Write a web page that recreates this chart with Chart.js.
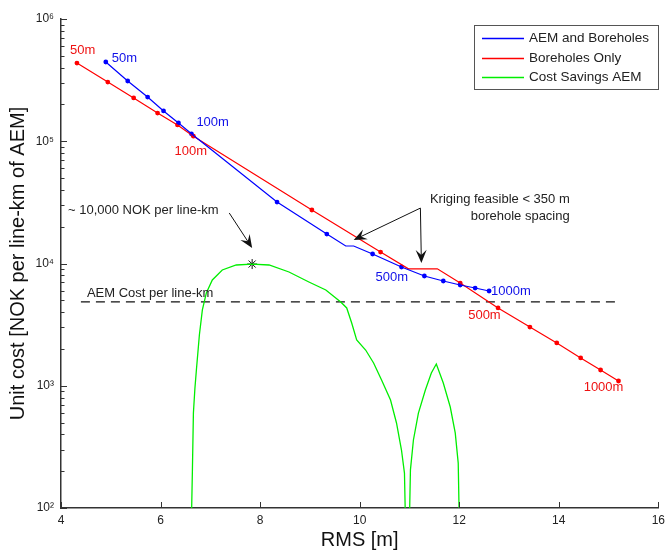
<!DOCTYPE html>
<html>
<head>
<meta charset="utf-8">
<title>Unit cost vs RMS</title>
<script src="https://cdn.jsdelivr.net/npm/chart.js@4.4.0/dist/chart.umd.min.js"></script>
<style>
  html, body { margin: 0; padding: 0; background: #fff; }
  #wrap { width: 670px; height: 555px; }
</style>
</head>
<body>
<div id="wrap"><canvas id="chart1" width="670" height="555"></canvas></div>
<script>
// borehole spacing 50,60,70,80,90,100,200,...,1000 m  (marked points)
var aemRms = [4.90, 5.34, 5.74, 6.06, 6.36, 6.62, 8.34, 9.34, 10.26, 10.84, 11.30, 11.68, 12.02, 12.32, 12.60]
var aemCost = [445000, 311000, 230000, 177000, 141000, 115000, 31800, 17400, 11960, 9360, 7900, 7190, 6670, 6300, 5960]
// extra bends of the blue line (kriging limit)
var aemBendRms = [9.72, 9.88]
var aemBendCost = [13900, 13900]

var boreRms = [4.32, 4.94, 5.46, 5.94, 6.34, 6.66, 9.04, 10.42, 12.02, 12.78, 13.42, 13.96, 14.44, 14.84, 15.20]
var boreCost = [436000, 305000, 226000, 170000, 136000, 110000, 27400, 12400, 6920, 4330, 3020, 2240, 1690, 1345, 1094]
var boreBendRms = [10.98, 11.56]
var boreBendCost = [9050, 9050]

// cost savings (drops below axis where it hits zero)
var savingRms = [6.60, 6.64, 6.66, 6.69, 6.72, 6.78, 6.84, 6.92, 7.04, 7.24, 7.52, 7.84, 8.18, 8.58, 8.98, 9.32, 9.62, 9.74, 9.84, 9.94, 10.12, 10.28, 10.44, 10.62, 10.74, 10.84, 10.90, 10.94, 10.98, 11.02, 11.08, 11.18, 11.32, 11.44, 11.54, 11.68, 11.82, 11.92, 11.98, 12.02]
var savingCost = [30, 205, 598, 950, 1345, 2600, 4170, 5740, 7330, 8850, 9720, 9900, 9720, 8520, 7060, 6070, 4840, 4330, 3260, 2370, 1960, 1535, 1115, 765, 496, 298, 193, 30, 30, 205, 360, 598, 923, 1272, 1507, 1052, 670, 411, 233, 30]

var peakRms = [7.84]
var peakCost = [9900]

var aemLineRms = [4.4, 15.2]
var aemLineCost = [4850, 4850]

var xTicks = [4, 6, 8, 10, 12, 14, 16]
var yTicks = [100, 1000, 10000, 100000, 1000000]
var legendNames = ['AEM and Boreholes', 'Boreholes Only', 'Cost Savings AEM']

var notes = [
    {text: '50m', x: 4.18, y: 557000, color: '#ee1111'},
    {text: '50m', x: 5.02, y: 480000, color: '#1010e8'},
    {text: '100m', x: 6.72, y: 143600, color: '#1010e8'},
    {text: '100m', x: 6.28, y: 83200, color: '#ee1111'},
    {text: '500m', x: 10.32, y: 7760, color: '#1010e8'},
    {text: '1000m', x: 12.64, y: 5960, color: '#1010e8'},
    {text: '500m', x: 12.18, y: 3790, color: '#ee1111'},
    {text: '1000m', x: 14.50, y: 977, color: '#ee1111'},
    {text: '~ 10,000 NOK per line-km', x: 4.14, y: 27400, color: '#222'},
    {text: 'AEM Cost per line-km', x: 4.52, y: 5740, color: '#222'},
    {text: 'Kriging feasible < 350 m', x: 14.22, y: 33700, color: '#222', right: true},
    {text: 'borehole spacing', x: 14.22, y: 24500, color: '#222', right: true}
]
var arrows = [
    {x1: 7.38, y1: 25900, x2: 7.84, y2: 13400},
    {x1: 11.22, y1: 28400, x2: 9.88, y2: 15560},
    {x1: 11.22, y1: 28400, x2: 11.24, y2: 10100}
]

var FONT = '"Liberation Sans", Arial, sans-serif'
var sup = {2: '\u00b2', 3: '\u00b3', 4: '\u2074', 5: '\u2075', 6: '\u2076'}

function pts(xs, ys) {
    var out = []
    for (var i = 0; i < xs.length; i++) out.push({x: xs[i], y: ys[i]})
    return out
}
function lineWithBends(xs, ys, bx, by) {
    return pts(xs, ys).concat(pts(bx, by)).sort(function(a, b) { return a.x - b.x })
}

function drawArrow(ctx, x1, y1, x2, y2) {
    var a = Math.atan2(y2 - y1, x2 - x1)
    ctx.beginPath()
    ctx.moveTo(x1, y1)
    ctx.lineTo(x2 - Math.cos(a) * 6, y2 - Math.sin(a) * 6)
    ctx.stroke()
    ctx.save()
    ctx.translate(x2, y2)
    ctx.rotate(a)
    ctx.beginPath()
    ctx.moveTo(0, 0)
    ctx.lineTo(-13, -5.5)
    ctx.lineTo(-8, 0)
    ctx.lineTo(-13, 5.5)
    ctx.closePath()
    ctx.fill()
    ctx.restore()
}

var extras = {
    id: 'extras',
    afterDraw: function(chart) {
        var ctx = chart.ctx
        var xs = chart.scales.x, ys = chart.scales.y
        var area = chart.chartArea
        ctx.save()
        // inward tick marks like the original
        ctx.strokeStyle = '#333'
        ctx.lineWidth = 1
        xTicks.forEach(function(v) {
            var px = Math.round(xs.getPixelForValue(v)) + 0.5
            ctx.beginPath(); ctx.moveTo(px, area.bottom); ctx.lineTo(px, area.bottom - 6); ctx.stroke()
        })
        for (var d = 2; d <= 6; d++) {
            for (var m = 1; m <= 9; m++) {
                if (d === 6 && m > 1) break
                var py = Math.round(ys.getPixelForValue(m * Math.pow(10, d))) + 0.5
                var len = m === 1 ? 6 : 3.5
                ctx.beginPath(); ctx.moveTo(area.left, py); ctx.lineTo(area.left + len, py); ctx.stroke()
            }
        }
        // text notes
        ctx.textBaseline = 'middle'
        ctx.font = '13px ' + FONT
        notes.forEach(function(n) {
            ctx.fillStyle = n.color
            ctx.textAlign = n.right ? 'right' : 'left'
            ctx.fillText(n.text, xs.getPixelForValue(n.x), ys.getPixelForValue(n.y))
        })
        // arrows
        ctx.strokeStyle = '#111'
        ctx.fillStyle = '#111'
        ctx.lineWidth = 1
        arrows.forEach(function(a) {
            drawArrow(ctx, xs.getPixelForValue(a.x1), ys.getPixelForValue(a.y1),
                xs.getPixelForValue(a.x2), ys.getPixelForValue(a.y2))
        })
        // legend box
        var bx = 474, by = 25, bw = 184, bh = 64
        ctx.fillStyle = '#fff'
        ctx.fillRect(bx, by, bw, bh)
        ctx.strokeStyle = '#555'
        ctx.lineWidth = 1
        ctx.strokeRect(bx + 0.5, by + 0.5, bw, bh)
        ctx.font = '13.5px ' + FONT
        ctx.textAlign = 'left'
        var colors = ['#0000ff', '#ff0000', '#00ee00']
        legendNames.forEach(function(name, i) {
            var ly = Math.round(by + 13 + i * 19.5) + 0.5
            ctx.strokeStyle = colors[i]
            ctx.lineWidth = 1.3
            ctx.beginPath(); ctx.moveTo(482, ly); ctx.lineTo(524, ly); ctx.stroke()
            ctx.fillStyle = '#222'
            ctx.fillText(name, 529, ly)
        })
        ctx.restore()
    }
}

var ctx = document.getElementById('chart1').getContext('2d')
var chart = new Chart(ctx, {
    type: 'scatter',
    data: {
        datasets: [
            {
                label: legendNames[0],
                data: lineWithBends(aemRms, aemCost, aemBendRms, aemBendCost),
                showLine: true, borderColor: '#0000ff', borderWidth: 1.2, pointRadius: 0
            },
            {
                label: legendNames[1],
                data: lineWithBends(boreRms, boreCost, boreBendRms, boreBendCost),
                showLine: true, borderColor: '#ff0000', borderWidth: 1.2, pointRadius: 0
            },
            {
                label: legendNames[2],
                data: pts(savingRms, savingCost),
                showLine: true, borderColor: '#00ee00', borderWidth: 1.3, pointRadius: 0
            },
            {
                label: 'AEM spacing points',
                data: pts(aemRms, aemCost),
                showLine: false, pointRadius: 2.4, pointBackgroundColor: '#0000ff', pointBorderWidth: 0
            },
            {
                label: 'Borehole spacing points',
                data: pts(boreRms, boreCost),
                showLine: false, pointRadius: 2.4, pointBackgroundColor: '#ff0000', pointBorderWidth: 0
            },
            {
                label: 'AEM Cost per line-km',
                data: pts(aemLineRms, aemLineCost),
                showLine: true, borderColor: '#111', borderWidth: 1.4, borderDash: [9, 6], pointRadius: 0
            },
            {
                label: 'peak',
                data: pts(peakRms, peakCost),
                showLine: false, pointStyle: 'star', pointRadius: 5, pointBorderColor: '#111', pointBorderWidth: 1
            }
        ]
    },
    options: {
        responsive: false,
        animation: false,
        maintainAspectRatio: false,
        layout: {padding: {left: 0, right: 8, top: 19, bottom: 0}},
        plugins: {
            legend: {display: false},
            tooltip: {enabled: false}
        },
        scales: {
            x: {
                type: 'linear', min: 4, max: 16,
                afterBuildTicks: function(s) { s.ticks = xTicks.map(function(v) { return {value: v} }) },
                afterFit: function(s) { s.height = 47 },
                grid: {display: false, drawTicks: false},
                border: {display: true, color: '#333', width: 1.5},
                ticks: {autoSkip: false, maxRotation: 0, padding: 5, color: '#222', font: {family: FONT, size: 12}},
                title: {display: true, text: 'RMS [m]', color: '#111', font: {family: FONT, size: 20}, padding: {top: 0, bottom: 3}}
            },
            y: {
                type: 'logarithmic', min: 100, max: 1000000,
                afterBuildTicks: function(s) { s.ticks = yTicks.map(function(v) { return {value: v} }) },
                afterFit: function(s) { s.width = 61 },
                grid: {display: false, drawTicks: false},
                border: {display: true, color: '#333', width: 1.5},
                ticks: {
                    autoSkip: false, padding: 7, color: '#222', font: {family: FONT, size: 12},
                    callback: function(v) { return '10' + sup[Math.round(Math.log10(v))] }
                },
                title: {display: true, text: 'Unit cost [NOK per line-km of AEM]', color: '#111', font: {family: FONT, size: 20}, padding: {top: 6, bottom: 0}}
            }
        }
    },
    plugins: [extras]
})
</script>
</body>
</html>
